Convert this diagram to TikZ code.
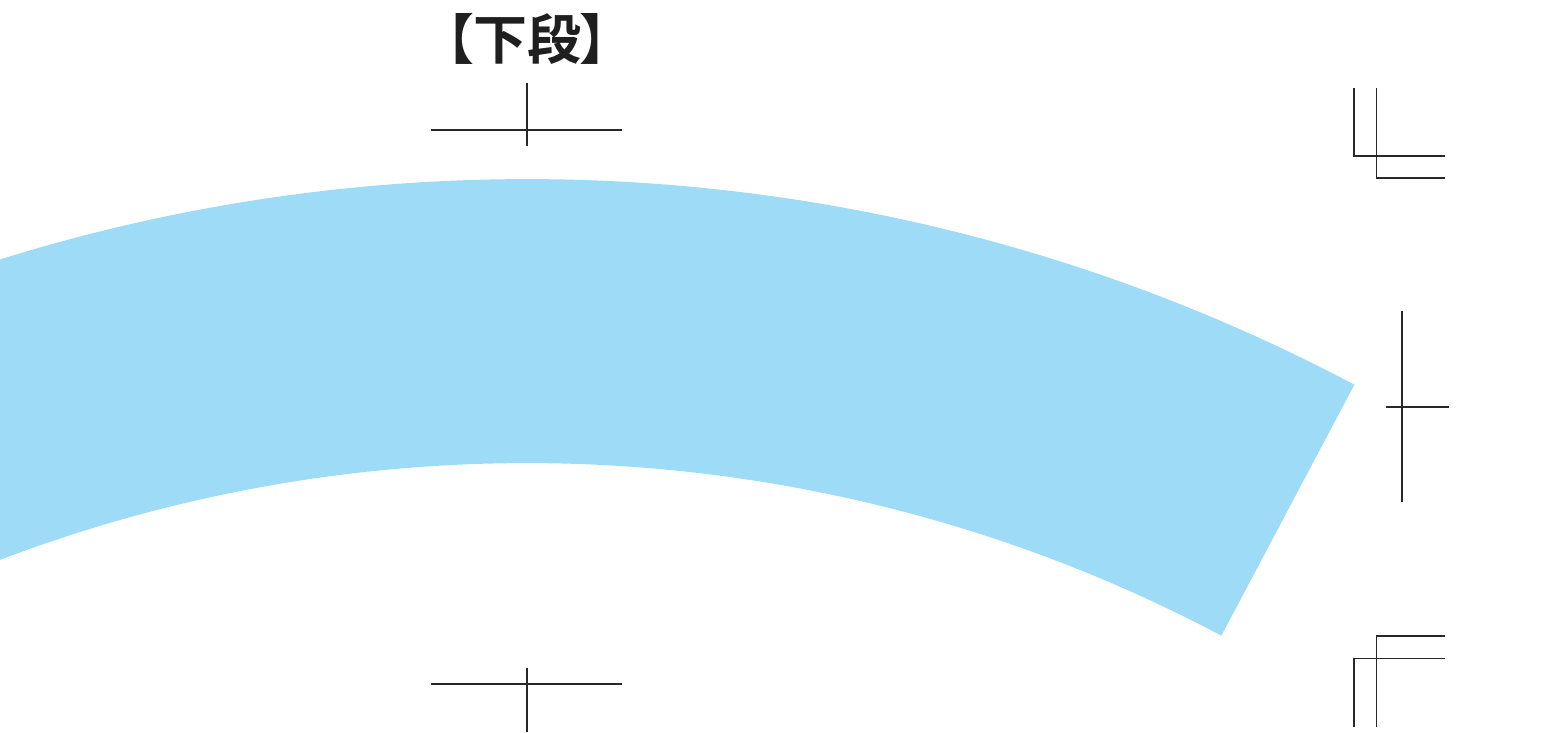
\documentclass[tikz,border=0pt]{standalone}
\usepackage{fontspec}
\newfontfamily\cjkbold[RawFeature=+palt]{Noto Sans CJK JP Bold}
\usetikzlibrary{calc}
\definecolor{bandblue}{RGB}{158,219,247}
\definecolor{markgray}{RGB}{40,40,40}
\tikzset{
  cropmark/.style={draw=markgray, line width=0.8pt},
  bandfill/.style={fill=bandblue, draw=none},
}
\begin{document}
\begin{tikzpicture}[x=0.75pt,y=-0.75pt]
\useasboundingbox (0,0) rectangle (1563,732);
\coordinate (C) at (527,1946);
\begin{scope}
\clip (0,0) rectangle (1563,732);
\fill[bandfill] ($(C)+(-117.92:1767)$) arc[start angle=-117.92, end angle=-62.08, radius=1767]
  -- ($(C)+(-62.08:1483)$) arc[start angle=-62.08, end angle=-117.92, radius=1483] -- cycle;
\end{scope}
% title
\node[font=\cjkbold\fontsize{40.5pt}{40.5pt}\selectfont, text=black!88, inner sep=0pt] (title) at (527,38.5) {【下段】};
% top center cross
\draw[cropmark] (431,130) -- (622,130);
\draw[cropmark] (527,83) -- (527,146);
% bottom center cross
\draw[cropmark] (431,684) -- (622,684);
\draw[cropmark] (527,668) -- (527,732);
% right middle cross
\draw[cropmark] (1402,311) -- (1402,502);
\draw[cropmark] (1386,407) -- (1449,407);
% top right corner
\draw[cropmark] (1354,88) -- (1354,156) -- (1445,156);
\draw[cropmark] (1376.5,88) -- (1376.5,178) -- (1445,178);
% bottom right corner
\draw[cropmark] (1445,636) -- (1376.5,636) -- (1376.5,727);
\draw[cropmark] (1445,658.5) -- (1354,658.5) -- (1354,727);
\end{tikzpicture}
\end{document}
